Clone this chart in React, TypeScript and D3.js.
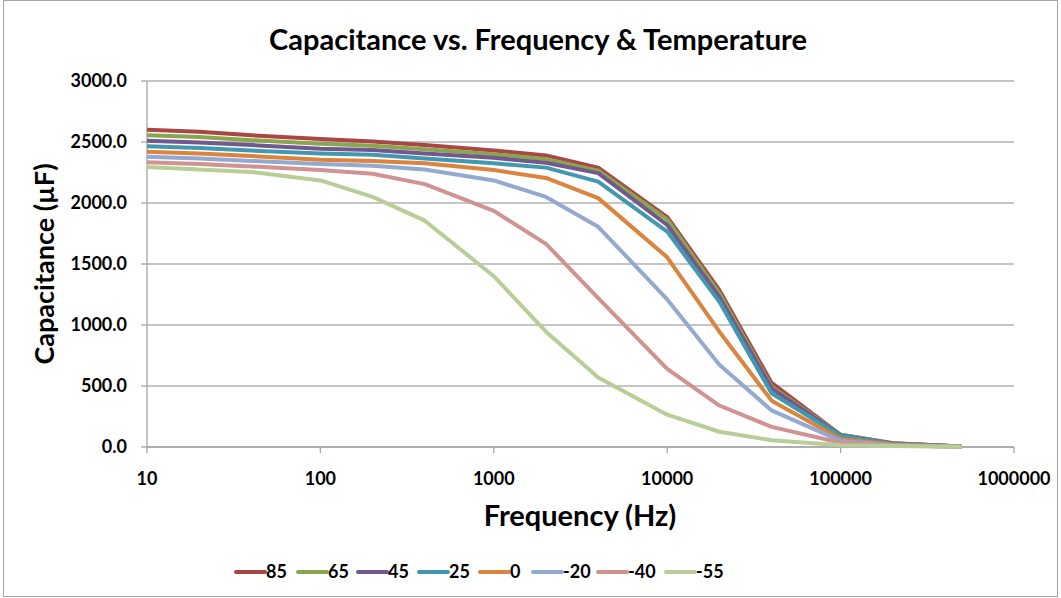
import React from 'react';
import * as d3 from 'd3';

// Frequencies (Hz) shared by every temperature series
const frequencies = [10, 20, 40, 100, 200, 400, 1000, 2000, 4000, 10000, 20000, 40000, 100000, 200000, 500000];

// Capacitance (µF) per temperature
const cap85 = [2600, 2585, 2555, 2525, 2505, 2475, 2430, 2390, 2290, 1885, 1285, 525, 100, 30, 5];
const cap65 = [2555, 2540, 2515, 2485, 2470, 2440, 2400, 2360, 2265, 1865, 1260, 495, 100, 30, 5];
const cap45 = [2510, 2495, 2475, 2445, 2435, 2405, 2370, 2330, 2245, 1820, 1230, 480, 95, 28, 5];
const cap25 = [2465, 2450, 2430, 2405, 2395, 2365, 2325, 2290, 2175, 1765, 1190, 440, 90, 25, 5];
const cap0 = [2420, 2405, 2385, 2355, 2345, 2325, 2270, 2205, 2040, 1555, 945, 380, 65, 20, 3];
const capM20 = [2380, 2365, 2345, 2320, 2305, 2275, 2185, 2050, 1805, 1210, 675, 300, 50, 15, 3];
const capM40 = [2335, 2320, 2300, 2270, 2240, 2155, 1935, 1665, 1220, 640, 340, 165, 35, 12, 2];
const capM55 = [2295, 2275, 2255, 2185, 2050, 1855, 1400, 945, 570, 265, 125, 55, 15, 8, 2];

const seriesNames = ['85', '65', '45', '25', '0', '-20', '-40', '-55'];
const seriesValues = [cap85, cap65, cap45, cap25, cap0, capM20, capM40, capM55];
const seriesColors = ['#AA4643', '#89A54E', '#71588F', '#4198AF', '#DB843D', '#93A9CF', '#D19392', '#B9CD96'];

const xTicks = [10, 100, 1000, 10000, 100000, 1000000];
const yTicks = [0, 500, 1000, 1500, 2000, 2500, 3000];

// legend item x offsets (line start)
const legendX = [236, 298, 358, 419, 480, 533, 598, 666];

const W = 1061;
const H = 598;
const FONT = 'Lato, "Open Sans", sans-serif';

export default function App() {
  const x = d3.scaleLog().domain([10, 1000000]).range([147, 1014]);
  const y = d3.scaleLinear().domain([0, 3000]).range([447, 81]);

  const line = d3
    .line<[number, number]>()
    .x((d) => x(d[0]))
    .y((d) => y(d[1]));

  return (
    <div style={{position: 'fixed', left: 0, top: 0}}>
      <svg width={W} height={H} style={{display: 'block', background: '#fff'}}>
        <rect x={3.5} y={0.5} width={1054} height={596} fill="#fff" stroke="#a6a6a6" />

        <text x={538} y={50} textAnchor="middle" fontFamily={FONT} fontWeight="bold" fontSize={29} fill="#000">
          Capacitance vs. Frequency &amp; Temperature
        </text>

        {/* grid lines */}
        {yTicks.map((t) => (
          <line key={'g' + t} x1={x(10)} x2={x(1000000)} y1={y(t)} y2={y(t)} stroke="#b3b3b3" strokeWidth={1.3} />
        ))}

        {/* axes */}
        <line x1={x(10)} x2={x(10)} y1={y(3000)} y2={y(0)} stroke="#a6a6a6" strokeWidth={1.3} />
        <line x1={x(10)} x2={x(1000000)} y1={y(0)} y2={y(0)} stroke="#a6a6a6" strokeWidth={1.3} />

        {yTicks.map((t) => (
          <g key={'y' + t}>
            <line x1={x(10) - 6} x2={x(10)} y1={y(t)} y2={y(t)} stroke="#a6a6a6" strokeWidth={1.3} />
            <text x={127} y={y(t) + 6} textAnchor="end" fontFamily={FONT} fontWeight="bold" fontSize={18}>
              {t.toFixed(1)}
            </text>
          </g>
        ))}

        {xTicks.map((t) => (
          <g key={'x' + t}>
            <line x1={x(t)} x2={x(t)} y1={y(0)} y2={y(0) + 6} stroke="#a6a6a6" strokeWidth={1.3} />
            <text x={x(t)} y={485} textAnchor="middle" fontFamily={FONT} fontWeight="bold" fontSize={18}>
              {t}
            </text>
          </g>
        ))}

        <text
          transform={`translate(54,264) rotate(-90)`}
          textAnchor="middle"
          fontFamily={FONT}
          fontWeight="bold"
          fontSize={27}
        >
          Capacitance (µF)
        </text>
        <text x={580} y={526} textAnchor="middle" fontFamily={FONT} fontWeight="bold" fontSize={29}>
          Frequency (Hz)
        </text>

        {/* series */}
        {seriesValues.map((vals, i) => (
          <path
            key={seriesNames[i]}
            d={line(frequencies.map((f, j) => [f, vals[j]] as [number, number])) || ''}
            fill="none"
            stroke={seriesColors[i]}
            strokeWidth={4}
            strokeLinejoin="round"
          />
        ))}

        {/* legend */}
        {seriesNames.map((name, i) => (
          <g key={'l' + name}>
            <line
              x1={legendX[i]}
              x2={legendX[i] + 29}
              y1={572}
              y2={572}
              stroke={seriesColors[i]}
              strokeWidth={4}
              strokeLinecap="round"
            />
            <text x={legendX[i] + 30} y={578} fontFamily={FONT} fontWeight="bold" fontSize={18}>
              {name}
            </text>
          </g>
        ))}
      </svg>
    </div>
  );
}
